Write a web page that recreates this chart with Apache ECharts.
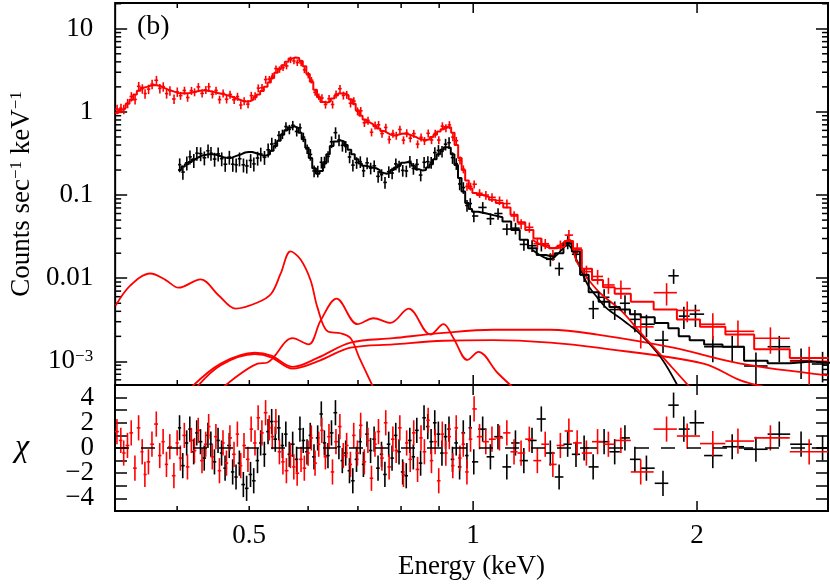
<!DOCTYPE html>
<html>
<head>
<meta charset="utf-8">
<script src="https://cdn.jsdelivr.net/npm/echarts@6/dist/echarts.min.js"></script>
<style>
  html, body { margin: 0; padding: 0; background: #fff; }
  #chart { width: 830px; height: 584px; }
</style>
</head>
<body>
<div id="chart"></div>
<script>
// axis ranges
const X_MIN = 0.33, X_MAX = 3.0
const Y_MIN = 5.2e-4, Y_MAX = 20.4
const CHI_MIN = -5, CHI_MAX = 5

// tick positions
const xLabelTicks = [0.5, 1, 2]
const xMajorTicks = [1, 2]
const xMinorTicks = [0.4, 0.5, 0.6, 0.7, 0.8, 0.9]
const yMinorTicks = [6e-4, 7e-4, 8e-4, 9e-4, 0.002, 0.003, 0.004, 0.005, 0.006, 0.007, 0.008, 0.009,
  0.02, 0.03, 0.04, 0.05, 0.06, 0.07, 0.08, 0.09, 0.2, 0.3, 0.4, 0.5, 0.6, 0.7, 0.8, 0.9,
  2, 3, 4, 5, 6, 7, 8, 9, 20]

// red spectrum (keV, counts/s/keV)
const redEnergy = [0.332, 0.336, 0.339, 0.343, 0.347, 0.351, 0.355, 0.359, 0.362, 0.366,
  0.370, 0.375, 0.379, 0.383, 0.387, 0.391, 0.396, 0.400, 0.404, 0.409,
  0.413, 0.418, 0.422, 0.427, 0.432, 0.437, 0.441, 0.446, 0.451, 0.456,
  0.461, 0.466, 0.471, 0.477, 0.482, 0.487, 0.492, 0.498, 0.503, 0.509,
  0.514, 0.520, 0.526, 0.532, 0.537, 0.543, 0.549, 0.555, 0.561, 0.568,
  0.574, 0.580, 0.587, 0.593, 0.600, 0.606, 0.613, 0.620, 0.626, 0.633,
  0.640, 0.647, 0.654, 0.662, 0.669, 0.676, 0.684, 0.691, 0.699, 0.706,
  0.714, 0.722, 0.730, 0.738, 0.746, 0.754, 0.763, 0.771, 0.780, 0.788,
  0.797, 0.806, 0.814, 0.823, 0.832, 0.842, 0.851, 0.860, 0.870, 0.879,
  0.889, 0.899, 0.909, 0.919, 0.929, 0.939, 0.949, 0.960, 0.970, 0.981,
  0.992, 1.003,
  1.02, 1.04, 1.06, 1.085, 1.11, 1.135, 1.16, 1.19, 1.22, 1.25,
  1.28, 1.31, 1.345, 1.38, 1.42, 1.47, 1.52, 1.58, 1.68, 1.82,
  1.94, 2.10, 2.27, 2.51, 2.83]
const redModel = [0.98, 1.06, 1.12, 1.25, 1.4, 1.62, 1.8, 1.95, 2.0, 2.06,
  2.1, 2.08, 2.02, 1.93, 1.85, 1.79, 1.73, 1.69, 1.68, 1.68,
  1.69, 1.72, 1.76, 1.8, 1.82, 1.8, 1.77, 1.73, 1.69, 1.65,
  1.62, 1.57, 1.52, 1.46, 1.41, 1.36, 1.33, 1.34, 1.4, 1.5,
  1.62, 1.78, 2.0, 2.25, 2.55, 2.95, 3.3, 3.65, 4.0, 4.4,
  4.5, 4.45, 4.1, 3.55, 2.85, 2.3, 1.85, 1.5, 1.32, 1.3,
  1.34, 1.45, 1.57, 1.67, 1.66, 1.58, 1.42, 1.25, 1.05, 0.9,
  0.81, 0.75, 0.71, 0.67, 0.63, 0.59, 0.56, 0.53, 0.52, 0.53,
  0.545, 0.55, 0.54, 0.52, 0.5, 0.475, 0.465, 0.46, 0.47, 0.5,
  0.53, 0.58, 0.62, 0.66, 0.65, 0.56, 0.4, 0.28, 0.2, 0.15,
  0.12, 0.106,
  0.1, 0.095, 0.088, 0.08, 0.071, 0.058, 0.047, 0.038, 0.03, 0.025,
  0.023, 0.024, 0.028, 0.022, 0.013, 0.0095, 0.0078, 0.0065, 0.0052, 0.0042,
  0.0032, 0.0026, 0.0021, 0.0014, 0.0011]
const redRate = [1.08, 1.11, 1.08, 1.27, 1.53, 1.41, 2.03, 1.9, 1.66, 1.88,
  2.15, 2.4, 1.92, 2.01, 1.66, 1.8, 1.43, 1.74, 1.57, 1.81,
  1.49, 1.8, 1.73, 2.0, 1.67, 1.84, 2.01, 1.63, 1.81, 1.41,
  1.67, 1.42, 1.62, 1.4, 1.53, 1.21, 1.35, 1.24, 1.57, 1.55,
  1.93, 1.95, 2.45, 2.48, 2.69, 3.32, 3.24, 3.41, 3.57, 4.24,
  4.1, 3.92, 3.88, 3.21, 2.78, 2.41, 1.72, 1.53, 1.47, 1.23,
  1.44, 1.23, 1.63, 1.9, 1.58, 1.61, 1.27, 1.35, 1.02, 1.03,
  0.74, 0.79, 0.57, 0.69, 0.7, 0.55, 0.65, 0.466, 0.55, 0.52,
  0.615, 0.458, 0.557, 0.483, 0.548, 0.41, 0.495, 0.449, 0.553, 0.46,
  0.551, 0.459, 0.675, 0.639, 0.697, 0.497, 0.451, 0.262, 0.205, 0.127,
  0.127, 0.135,
  0.105, 0.1, 0.094, 0.086, 0.079, 0.056, 0.045, 0.041, 0.026, 0.026,
  0.019, 0.0247, 0.033, 0.023, 0.012, 0.0105, 0.0083, 0.0075, 0.0026, 0.0067,
  0.0041, 0.0028, 0.0023, 0.0019, 0.001]
const redChi = [1.3, 0.6, -0.4, 0.2, 1.2, -1.6, 1.6, -0.3, -2.1, -1.1,
  0.3, 1.9, -0.6, 0.5, -1.3, 0.1, -2.2, 0.4, -0.8, 1.0,
  -1.5, 0.6, -0.2, 1.4, -1.0, 0.3, 1.7, -0.7, 0.9, -1.8,
  0.4, -1.2, 0.8, -0.5, 1.1, -1.4, 0.2, -0.9, 1.5, 0.4,
  2.4, 1.2, 2.8, 1.6, 0.9, 2.1, -0.3, -1.1, -1.8, -0.6,
  -1.5, -2.0, -0.9, -1.6, -0.4, 0.8, -1.2, 0.3, 1.4, -0.7,
  0.9, -1.9, 0.5, 1.7, -0.6, 0.2, -1.3, 1.0, -0.4, 1.8,
  -1.1, 0.6, -2.4, 0.3, 1.3, -0.8, 2.0, -1.5, 0.7, -0.2,
  1.6, -2.1, 0.4, -0.9, 1.2, -1.7, 0.8, -0.3, 2.2, -1.0,
  0.5, -2.6, 1.1, -0.4, 0.9, -1.4, 1.6, -0.8, 0.3, -1.9,
  0.7, 3.1,
  0.9, 0.5, 0.7, 0.8, 1.2, -0.3, -0.4, 0.7, -1.0, 0.3,
  -1.3, 0.2, 1.35, 0.4, -0.4, 0.5, 0.3, 0.6, -1.9, 1.5,
  0.95, 0.35, 0.55, 0.8, -0.3]
// relative 1-sigma error: [upper energy of band, error]
const redErrBands = [[0.40, 0.13], [0.53, 0.11], [0.62, 0.09], [1.01, 0.11], [1.12, 0.12], [1.26, 0.14],
  [1.40, 0.15], [1.44, 0.18], [1.49, 0.2], [1.55, 0.22], [1.62, 0.25], [1.74, 0.45], [1.88, 0.3],
  [2.0, 0.28], [2.6, 0.35], [3.1, 0.5]]

// black spectrum
const blackEnergy = [0.403, 0.407, 0.412, 0.416, 0.421, 0.425, 0.430, 0.435, 0.440, 0.444,
  0.449, 0.454, 0.459, 0.464, 0.470, 0.475, 0.480, 0.485, 0.491, 0.496,
  0.502, 0.507, 0.513, 0.518, 0.524, 0.530, 0.536, 0.542, 0.548, 0.554,
  0.560, 0.566, 0.572, 0.579, 0.585, 0.591, 0.598, 0.604, 0.611, 0.618,
  0.625, 0.631, 0.638, 0.645, 0.653, 0.660, 0.667, 0.674, 0.682, 0.689,
  0.697, 0.705, 0.712, 0.720, 0.728, 0.736, 0.745, 0.753, 0.761, 0.770,
  0.778, 0.787, 0.795, 0.804, 0.813, 0.822, 0.831, 0.840, 0.850, 0.859,
  0.869, 0.878, 0.888, 0.898, 0.908, 0.918, 0.928, 0.938, 0.949, 0.959,
  0.970, 0.981, 0.991, 1.002,
  1.03, 1.055, 1.08, 1.11, 1.14, 1.17, 1.2, 1.235, 1.27, 1.305,
  1.34, 1.375, 1.41, 1.45, 1.5, 1.55, 1.6, 1.65, 1.71, 1.80,
  1.86, 1.92, 1.99, 2.1, 2.23, 2.4, 2.58, 2.76, 2.95]
const blackModel = [0.2, 0.22, 0.235, 0.25, 0.27, 0.285, 0.3, 0.305, 0.31, 0.31,
  0.305, 0.295, 0.285, 0.28, 0.28, 0.29, 0.3, 0.31, 0.325, 0.33,
  0.33, 0.32, 0.31, 0.3, 0.3, 0.31, 0.34, 0.39, 0.45, 0.53,
  0.6, 0.65, 0.67, 0.64, 0.56, 0.47, 0.37, 0.28, 0.21, 0.18,
  0.195, 0.24, 0.31, 0.39, 0.44, 0.455, 0.44, 0.4, 0.35, 0.31,
  0.27, 0.24, 0.225, 0.22, 0.215, 0.21, 0.2, 0.185, 0.18, 0.185,
  0.2, 0.215, 0.23, 0.245, 0.25, 0.24, 0.225, 0.205, 0.198, 0.2,
  0.215, 0.235, 0.27, 0.31, 0.35, 0.375, 0.37, 0.31, 0.23, 0.16,
  0.11, 0.08, 0.068, 0.063,
  0.06, 0.057, 0.054, 0.048, 0.038, 0.029, 0.023, 0.019, 0.018, 0.02,
  0.026, 0.021, 0.011, 0.0068, 0.0052, 0.0045, 0.0042, 0.0037, 0.0034, 0.0029,
  0.0025, 0.002, 0.0018, 0.0016, 0.0015, 0.00102, 0.00095, 0.001, 0.00096]
const blackRate = [0.232, 0.189, 0.244, 0.288, 0.262, 0.319, 0.315, 0.281, 0.341, 0.319,
  0.271, 0.313, 0.274, 0.235, 0.286, 0.235, 0.231, 0.273, 0.231, 0.224,
  0.261, 0.237, 0.279, 0.312, 0.285, 0.35, 0.411, 0.417, 0.522, 0.541,
  0.666, 0.618, 0.69, 0.582, 0.644, 0.498, 0.359, 0.308, 0.195, 0.194,
  0.248, 0.25, 0.291, 0.437, 0.563, 0.46, 0.396, 0.384, 0.287, 0.229,
  0.246, 0.252, 0.196, 0.244, 0.211, 0.225, 0.168, 0.176, 0.142, 0.191,
  0.184, 0.237, 0.223, 0.198, 0.195, 0.254, 0.209, 0.234, 0.174, 0.248,
  0.252, 0.247, 0.324, 0.344, 0.336, 0.409, 0.426, 0.282, 0.239, 0.136,
  0.123, 0.075, 0.079, 0.056,
  0.071, 0.052, 0.06, 0.039, 0.04, 0.0255, 0.0246, 0.0256, 0.0169, 0.0131,
  0.0272, 0.0194, 0.011, 0.0043, 0.0059, 0.0042, 0.005, 0.0032, 0.0028, 0.0018,
  0.0107, 0.0035, 0.0037, 0.0015, 0.0015, 0.00088, 0.0015, 0.00102, 0.00093]
const blackChi = [1.6, -1.4, 0.4, 1.5, -0.3, 1.2, 0.5, -0.8, 1.0, 0.3,
  -1.1, 0.6, -0.4, -1.6, 0.2, -1.9, -2.3, -1.2, -2.9, -3.2,
  -2.1, -2.6, -1.0, 0.4, -0.5, 1.3, 2.1, 0.7, 1.6, 0.2,
  1.1, -0.5, 0.3, -0.9, 1.5, 0.6, -0.3, 1.0, -0.7, 0.8,
  2.7, 0.4, -0.6, 1.2, 2.8, 0.1, -1.0, -0.4, -1.8, -2.6,
  -0.9, 0.5, -1.3, 1.1, -0.2, 0.7, -1.6, -0.5, -2.1, 0.3,
  -0.8, 1.0, -0.3, -1.9, -2.2, 0.6, -0.7, 1.4, -1.2, 2.4,
  1.7, 0.5, 2.0, 1.1, -0.4, 0.9, 1.5, -0.9, 0.4, -1.5,
  1.2, -0.6, 1.6, -1.1,
  1.5, -0.7, 0.9, -1.5, 0.4, -1.0, 0.6, 2.3, -0.4, -2.3,
  0.3, -0.5, 0.0, -1.5, 0.5, -0.3, 0.8, -0.9, -1.6, -2.8,
  3.4, 1.5, 2.0, -0.6, 0.1, -0.1, 1.1, 0.3, 0.0]
const blackErrBands = [[0.54, 0.19], [0.60, 0.13], [1.01, 0.16], [1.21, 0.16], [1.43, 0.18], [1.62, 0.25],
  [1.83, 0.3], [1.89, 0.2], [2.05, 0.3], [2.3, 0.35], [2.5, 0.45], [2.68, 0.35], [3.1, 0.4]]

// model components [keV, counts/s/keV]
const compLowT = [[0.3305, 0.0047], [0.346, 0.0082], [0.368, 0.0114], [0.386, 0.0095], [0.4016, 0.0077],
  [0.43, 0.0097], [0.4548, 0.0062], [0.4793, 0.0043], [0.5129, 0.0051], [0.535, 0.0065],
  [0.551, 0.0114], [0.568, 0.021], [0.586, 0.0168], [0.6045, 0.0094], [0.6176, 0.0044],
  [0.637, 0.0023], [0.6633, 0.00218], [0.6842, 0.0019], [0.703, 0.0011], [0.7345, 0.00048]]
const compMidT = [[0.4603, 0.00048], [0.5129, 0.00094], [0.529, 0.00097], [0.5716, 0.0019], [0.6006, 0.0016],
  [0.6235, 0.0031], [0.6552, 0.0057], [0.6989, 0.0028], [0.7345, 0.0033], [0.774, 0.0029],
  [0.8186, 0.0043], [0.876, 0.0021], [0.9122, 0.0028], [0.9408, 0.0019], [0.9824, 0.00104],
  [1.0165, 0.0013], [1.078, 0.00073], [1.133, 0.00048]]
const compPowA = [[0.417, 0.00048], [0.4577, 0.00094], [0.5085, 0.00127], [0.535, 0.00117], [0.5716, 0.00086],
  [0.6176, 0.0011], [0.6842, 0.00168], [0.781, 0.0019], [0.9122, 0.0022], [1.064, 0.0024],
  [1.27, 0.0024], [1.469, 0.0021], [1.858, 0.00146], [2.288, 0.00094], [3.0, 0.00068]]
const compPowB = [[0.424, 0.00048], [0.4577, 0.0009], [0.5085, 0.00122], [0.535, 0.00112], [0.5716, 0.00082],
  [0.6176, 0.001], [0.6842, 0.00146], [0.781, 0.0016], [0.9122, 0.00177], [1.064, 0.0018],
  [1.27, 0.00168], [1.469, 0.00146], [2.04, 0.00094], [2.288, 0.00059], [2.5, 0.00048]]
const blackThermal = [[1.2, 0.022], [1.27, 0.017], [1.34, 0.025], [1.38, 0.016], [1.424, 0.0085],
  [1.47, 0.0058], [1.51, 0.0044], [1.6, 0.003], [1.68, 0.0021], [1.79, 0.0011], [1.89, 0.00048]]
const redThermal = [[1.2, 0.029], [1.28, 0.023], [1.345, 0.029], [1.38, 0.0154], [1.47, 0.0071],
  [1.58, 0.0041], [1.68, 0.0022], [1.82, 0.001], [1.96, 0.00048]]

const RED = '#ff0000'
const BLACK = '#000000'
const SERIF = '"Liberation Serif", "DejaVu Serif", serif'

function bandErr(bands, e) {
  for (const [upper, err] of bands) if (e <= upper) return err
  return bands[bands.length - 1][1]
}

// bin edges = geometric midpoints between neighbouring channels
function binEdges(centers) {
  return centers.map((c, i) => {
    const prev = i > 0 ? centers[i - 1] : c * c / centers[i + 1]
    const next = i < centers.length - 1 ? centers[i + 1] : c * c / centers[i - 1]
    return [Math.sqrt(prev * c), Math.sqrt(c * next)]
  })
}

function stepLine(centers, model) {
  const pts = []
  binEdges(centers).forEach((e, i) => {
    pts.push([e[0], model[i]], [e[1], model[i]])
  })
  return pts
}

function spectrumCrosses(centers, rate, bands) {
  const edges = binEdges(centers)
  return centers.map((c, i) => {
    const err = bandErr(bands, c)
    return [c, rate[i], rate[i] * (1 - err), rate[i] * (1 + err), edges[i][0], edges[i][1]]
  })
}

function residualCrosses(centers, chi) {
  const edges = binEdges(centers)
  return centers.map((c, i) => [c, chi[i], chi[i] - 1, chi[i] + 1, edges[i][0], edges[i][1]])
}

function renderCross(params, api) {
  const c = api.coord([api.value(0), api.value(1)])
  const l = api.coord([api.value(4), api.value(1)])
  const r = api.coord([api.value(5), api.value(1)])
  const b = api.coord([api.value(0), api.value(2)])
  const t = api.coord([api.value(0), api.value(3)])
  const style = { stroke: api.visual('color'), lineWidth: 1.6 }
  return {
    type: 'group',
    children: [
      { type: 'line', shape: { x1: l[0], y1: c[1], x2: r[0], y2: c[1] }, style },
      { type: 'line', shape: { x1: c[0], y1: b[1], x2: c[0], y2: t[1] }, style }
    ]
  }
}

// x ticks drawn through the log scale of each grid
function xTickRenderer(len, withTop, withBottom) {
  return function (params, api) {
    const x = api.coord([api.value(0), api.value(1)])[0]
    const cs = params.coordSys
    const style = { stroke: BLACK, lineWidth: 1.5 }
    const children = []
    if (withBottom) children.push({ type: 'line', shape: { x1: x, y1: cs.y + cs.height, x2: x, y2: cs.y + cs.height - len }, style })
    if (withTop) children.push({ type: 'line', shape: { x1: x, y1: cs.y, x2: x, y2: cs.y + len }, style })
    return { type: 'group', children }
  }
}

function yMinorRenderer(params, api) {
  const y = api.coord([api.value(0), api.value(1)])[1]
  const cs = params.coordSys
  const style = { stroke: BLACK, lineWidth: 1.5 }
  return {
    type: 'group',
    children: [
      { type: 'line', shape: { x1: cs.x, y1: y, x2: cs.x + 6, y2: y }, style },
      { type: 'line', shape: { x1: cs.x + cs.width - 6, y1: y, x2: cs.x + cs.width, y2: y }, style }
    ]
  }
}

function xLabelRenderer(params, api) {
  const x = api.coord([api.value(0), api.value(1)])[0]
  const cs = params.coordSys
  return {
    type: 'text',
    style: {
      text: String(api.value(0)), x: x, y: cs.y + cs.height + 11,
      font: '27px ' + SERIF, fill: BLACK, textAlign: 'center', textVerticalAlign: 'top'
    }
  }
}

function logLabel(v) {
  const e = Math.log10(v)
  const r = Math.round(e)
  if (Math.abs(e - r) > 1e-6) return ''
  if (r <= -3) return '10{s|\u2212' + (-r) + '}'
  return String(Number(Math.pow(10, r).toFixed(Math.max(0, -r))))
}

function chiLabel(v) {
  if (Math.abs(v) > 4.5 || Math.round(v) % 2 !== 0) return ''
  return v < 0 ? '\u2212' + (-v) : String(v)
}

const logX = (gridIndex) => ({
  type: 'log', gridIndex, min: X_MIN, max: X_MAX,
  axisLine: { show: false }, axisTick: { show: false }, axisLabel: { show: false }, splitLine: { show: false }
})

const tickStyle = { inside: true, length: 12, lineStyle: { color: BLACK, width: 1.5 } }

const chart = echarts.init(document.getElementById('chart'))

chart.setOption({
  animation: false,
  backgroundColor: '#fff',
  graphic: [{
    type: 'text', left: 137, top: 13,
    style: { text: '(b)', font: '28px ' + SERIF, fill: BLACK }
  }],
  grid: [
    { left: 115, top: 3, width: 713, height: 382, show: true, borderColor: BLACK, borderWidth: 2, backgroundColor: 'transparent' },
    { left: 115, top: 385, width: 713, height: 126, show: true, borderColor: BLACK, borderWidth: 2, backgroundColor: 'transparent' }
  ],
  xAxis: [
    logX(0),
    Object.assign(logX(1), {
      name: 'Energy (keV)', nameLocation: 'middle', nameGap: 42,
      nameTextStyle: { fontFamily: SERIF, fontSize: 27, color: BLACK }
    })
  ],
  yAxis: [
    {
      type: 'log', gridIndex: 0, min: Y_MIN, max: Y_MAX, position: 'left',
      axisLine: { show: false }, splitLine: { show: false }, axisTick: tickStyle,
      axisLabel: {
        fontFamily: SERIF, fontSize: 27, color: BLACK, margin: 22, formatter: logLabel,
        rich: { s: { fontFamily: SERIF, fontSize: 17, color: BLACK, verticalAlign: 'top' } }
      },
      name: 'Counts sec{s|\u22121} keV{s|\u22121}', nameLocation: 'middle', nameGap: 80, nameRotate: 90,
      nameTextStyle: {
        fontFamily: SERIF, fontSize: 27, color: BLACK,
        rich: { s: { fontFamily: SERIF, fontSize: 17, color: BLACK, verticalAlign: 'top' } }
      }
    },
    {
      type: 'log', gridIndex: 0, min: Y_MIN, max: Y_MAX, position: 'right',
      axisLine: { show: false }, splitLine: { show: false }, axisTick: tickStyle, axisLabel: { show: false }
    },
    {
      type: 'value', gridIndex: 1, min: CHI_MIN, max: CHI_MAX, interval: 1, position: 'left',
      axisLine: { show: false }, splitLine: { show: false }, axisTick: tickStyle,
      axisLabel: { fontFamily: SERIF, fontSize: 27, color: BLACK, margin: 21, formatter: chiLabel },
      name: '\u03c7', nameLocation: 'middle', nameGap: 86, nameRotate: 0,
      nameTextStyle: { fontFamily: SERIF, fontSize: 32, fontStyle: 'italic', color: BLACK }
    },
    {
      type: 'value', gridIndex: 1, min: CHI_MIN, max: CHI_MAX, interval: 1, position: 'right',
      axisLine: { show: false }, splitLine: { show: false }, axisTick: tickStyle, axisLabel: { show: false }
    }
  ],
  series: [
    // axis decorations
    { type: 'custom', xAxisIndex: 0, yAxisIndex: 0, silent: true, renderItem: xTickRenderer(5, true, true), data: xMinorTicks.map(v => [v, Y_MIN]) },
    { type: 'custom', xAxisIndex: 0, yAxisIndex: 0, silent: true, renderItem: xTickRenderer(10, true, true), data: xMajorTicks.map(v => [v, Y_MIN]) },
    { type: 'custom', xAxisIndex: 0, yAxisIndex: 0, silent: true, renderItem: yMinorRenderer, data: yMinorTicks.map(v => [X_MIN, v]) },
    { type: 'custom', xAxisIndex: 1, yAxisIndex: 2, silent: true, renderItem: xTickRenderer(5, false, true), data: xMinorTicks.map(v => [v, 0]) },
    { type: 'custom', xAxisIndex: 1, yAxisIndex: 2, silent: true, renderItem: xTickRenderer(10, true, true), data: xMajorTicks.map(v => [v, 0]) },
    { type: 'custom', xAxisIndex: 1, yAxisIndex: 2, silent: true, renderItem: xLabelRenderer, data: xLabelTicks.map(v => [v, 0]) },

    // model components
    ...[compLowT, compMidT, compPowA, compPowB].map(d => ({
      type: 'line', xAxisIndex: 0, yAxisIndex: 0, data: d, smooth: 0.35, showSymbol: false, silent: true,
      lineStyle: { color: RED, width: 1.8 }
    })),
    { type: 'line', xAxisIndex: 0, yAxisIndex: 0, data: blackThermal, smooth: 0.35, showSymbol: false, silent: true, lineStyle: { color: BLACK, width: 1.8 } },
    { type: 'line', xAxisIndex: 0, yAxisIndex: 0, data: redThermal, smooth: 0.35, showSymbol: false, silent: true, lineStyle: { color: RED, width: 1.8 } },

    // spectra
    { type: 'custom', xAxisIndex: 0, yAxisIndex: 0, clip: true, silent: true, renderItem: renderCross, itemStyle: { color: BLACK }, data: spectrumCrosses(blackEnergy, blackRate, blackErrBands) },
    { type: 'line', xAxisIndex: 0, yAxisIndex: 0, data: stepLine(blackEnergy, blackModel), showSymbol: false, silent: true, lineStyle: { color: BLACK, width: 2 } },
    { type: 'custom', xAxisIndex: 0, yAxisIndex: 0, clip: true, silent: true, renderItem: renderCross, itemStyle: { color: RED }, data: spectrumCrosses(redEnergy, redRate, redErrBands) },
    { type: 'line', xAxisIndex: 0, yAxisIndex: 0, data: stepLine(redEnergy, redModel), showSymbol: false, silent: true, lineStyle: { color: RED, width: 2 } },

    // residuals
    { type: 'line', xAxisIndex: 1, yAxisIndex: 2, data: [[X_MIN, 0], [X_MAX, 0]], showSymbol: false, silent: true, lineStyle: { color: BLACK, width: 1.6, type: [14, 12] } },
    { type: 'custom', xAxisIndex: 1, yAxisIndex: 2, clip: true, silent: true, renderItem: renderCross, itemStyle: { color: BLACK }, data: residualCrosses(blackEnergy, blackChi) },
    { type: 'custom', xAxisIndex: 1, yAxisIndex: 2, clip: true, silent: true, renderItem: renderCross, itemStyle: { color: RED }, data: residualCrosses(redEnergy, redChi) }
  ]
})
</script>
</body>
</html>
